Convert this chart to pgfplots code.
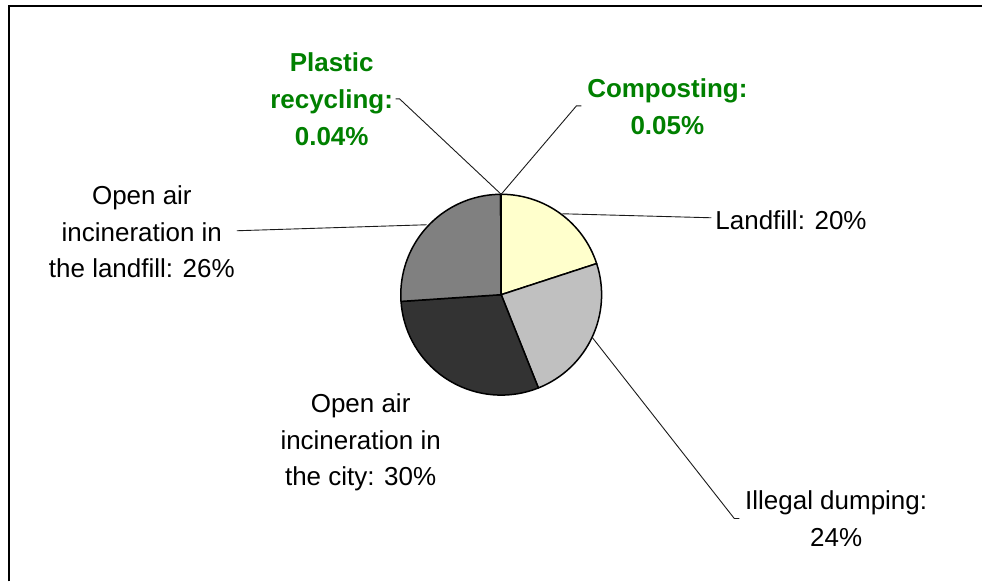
\documentclass[border=0pt]{standalone}
\usepackage{fontspec}
\setmainfont{Liberation Sans}
\usepackage{pgfplots}
\usepackage{pgfplotstable}
\pgfplotsset{compat=1.18}
\definecolor{pieyellow}{HTML}{FFFFCC}
\definecolor{pielight}{HTML}{C0C0C0}
\definecolor{piedark}{HTML}{333333}
\definecolor{piemid}{HTML}{808080}
\definecolor{labgreen}{HTML}{008000}
\definecolor{leader}{HTML}{1A1A1A}

\pgfplotstableread{
label value
Landfill 20
Illegal 24
City 30
LandfillInc 26
Plastic 0.04
Composting 0.05
}\piedata
\pgfplotstablegetelem{0}{value}\of\piedata \let\vA\pgfplotsretval
\pgfplotstablegetelem{1}{value}\of\piedata \let\vB\pgfplotsretval
\pgfplotstablegetelem{2}{value}\of\piedata \let\vC\pgfplotsretval
\pgfplotstablegetelem{3}{value}\of\piedata \let\vD\pgfplotsretval
\pgfplotstablegetelem{4}{value}\of\piedata \let\vE\pgfplotsretval
\pgfplotstablegetelem{5}{value}\of\piedata \let\vF\pgfplotsretval
\pgfmathsetmacro\T{\vA+\vB+\vC+\vD+\vE+\vF}
\pgfmathsetmacro\aA{90}
\pgfmathsetmacro\aB{\aA-360*\vA/\T}
\pgfmathsetmacro\aC{\aB-360*\vB/\T}
\pgfmathsetmacro\aD{\aC-360*\vC/\T}
\pgfmathsetmacro\aE{\aD-360*\vD/\T}
\pgfmathsetmacro\aF{\aE-360*\vE/\T}
\pgfmathsetmacro\aG{\aF-360*\vF/\T}
\newcommand\sector[3]{%
  \filldraw[fill=#3, draw=black, line width=1.5bp, line join=round]
    (axis cs:501.7,287) -- ++(#1:100.5bp) arc[start angle=#1, end angle=#2, radius=100.5bp] -- cycle;}
\tikzset{
  lab/.style={font=\fontsize{26bp}{36.5bp}\selectfont, inner sep=0pt, align=center},
  glab/.style={font=\fontsize{26bp}{37bp}\selectfont\bfseries, text=labgreen, inner sep=0pt, align=center},
}
\begin{document}%
\begin{tikzpicture}
\begin{axis}[
  x=1bp, y=1bp, xmin=0, xmax=983, ymin=0, ymax=582,
  hide axis, clip=false,
]
\addplot[draw=none, forget plot] coordinates {(0,0) (983,582)};
% frame
\addplot[black, line width=2bp, forget plot] coordinates {(9,0) (9,575.5) (983,575.5)};
% pie
\sector{\aA}{\aB}{pieyellow}
\sector{\aB}{\aC}{pielight}
\sector{\aC}{\aD}{piedark}
\sector{\aD}{\aE}{piemid}
\sector{\aE}{\aF}{labgreen}
\sector{\aF}{\aG}{labgreen}
% leader lines
\addplot[leader, line width=0.9bp] coordinates {(396,483) (400,483) (501.7,387.5)};
\addplot[leader, line width=0.9bp] coordinates {(582,476) (577,476) (501.7,387.5)};
\addplot[leader, line width=0.9bp] coordinates {(563,368) (712,364)};
\addplot[leader, line width=0.9bp] coordinates {(237,351) (427,357)};
\addplot[leader, line width=0.9bp] coordinates {(593,244) (735,63) (740,63)};
% labels
\node[glab] at (axis cs:332,483) {Plastic\\recycling:\\0.04\%};
\node[glab] at (axis cs:668,475) {Composting:\\0.05\%};
\node[lab, anchor=west] at (axis cs:716,362) {Landfill: 20\%};
\node[lab] at (axis cs:837,63) {Illegal dumping:\\24\%};
\node[lab] at (axis cs:361,139) {Open air\\incineration in\\the city: 30\%};
\node[lab] at (axis cs:142,350) {Open air\\incineration in\\the landfill: 26\%};
\end{axis}
\end{tikzpicture}%
\end{document}
